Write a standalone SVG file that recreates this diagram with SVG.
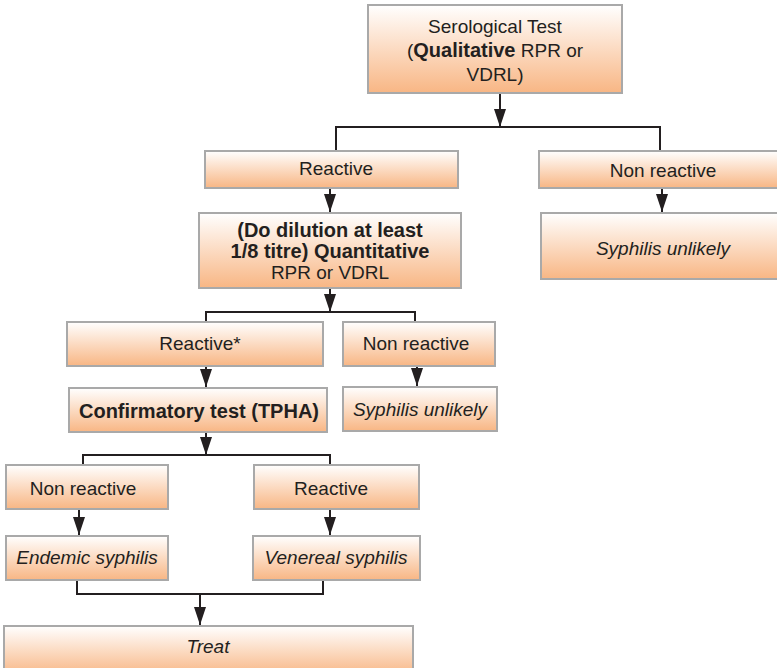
<svg xmlns="http://www.w3.org/2000/svg" width="777" height="668" viewBox="0 0 777 668">
  <defs>
    <linearGradient id="boxFill" x1="0" y1="0" x2="0" y2="1">
      <stop offset="0" stop-color="#ffffff"/>
      <stop offset="1" stop-color="#f8b684"/>
    </linearGradient>
    <!-- arrowhead drawn along +x so orient="auto" points it down the line -->
    <marker id="arrow" viewBox="0 0 18 12" refX="18" refY="6" markerWidth="18" markerHeight="12" markerUnits="userSpaceOnUse" orient="auto">
      <path d="M0,0 L18,6 L0,12 Z" fill="#231f20"/>
    </marker>
  </defs>
  <style>
    .box { fill: url(#boxFill); stroke: #a9a9a9; stroke-width: 2; }
    text { font-family: "Liberation Sans", Arial, sans-serif; font-size: 19px; fill: #231f20; text-anchor: middle; }
    .b { font-weight: bold; font-size: 20px; }
    .i { font-style: italic; }
    .line { fill: none; stroke: #231f20; stroke-width: 2; }
    .arr { fill: none; stroke: #231f20; stroke-width: 2; marker-end: url(#arrow); }
  </style>

  <g id="connectors">
    <!-- serological test to first split -->
    <line class="arr" x1="500" y1="93" x2="500" y2="127"/>
    <polyline class="line" points="336,150 336,127 660,127 660,151"/>
    <!-- first-level branches -->
    <line class="arr" x1="330" y1="188" x2="330" y2="212"/>
    <line class="arr" x1="662" y1="188" x2="662" y2="212"/>
    <!-- quantitative test to second split -->
    <line class="arr" x1="330" y1="288" x2="330" y2="312"/>
    <polyline class="line" points="206,322 206,312 415,312 415,322"/>
    <line class="arr" x1="206" y1="366" x2="206" y2="387"/>
    <line class="arr" x1="417" y1="366" x2="417" y2="386"/>
    <!-- confirmatory test to third split -->
    <line class="arr" x1="206" y1="432" x2="206" y2="455"/>
    <polyline class="line" points="83,465 83,455 330,455 330,465"/>
    <line class="arr" x1="79" y1="509" x2="79" y2="535"/>
    <line class="arr" x1="330" y1="509" x2="330" y2="535"/>
    <!-- both outcomes join into treatment -->
    <polyline class="line" points="77,580 77,594 323,594 323,580"/>
    <line class="arr" x1="200" y1="594" x2="200" y2="625"/>
  </g>

  <g id="serological-test">
    <rect class="box" x="368" y="5" width="254" height="88"/>
    <text x="495" y="33">Serological Test</text>
    <text x="495" y="57">(<tspan class="b">Qualitative</tspan> RPR or</text>
    <text x="495" y="81">VDRL)</text>
  </g>

  <g id="reactive-1">
    <rect class="box" x="205" y="151" width="253" height="37"/>
    <text x="336" y="175">Reactive</text>
  </g>

  <g id="non-reactive-1">
    <rect class="box" x="539" y="151" width="240" height="37"/>
    <text x="663" y="177">Non reactive</text>
  </g>

  <g id="unlikely-1">
    <rect class="box" x="541" y="213" width="238" height="66"/>
    <text class="i" x="663" y="255">Syphilis unlikely</text>
  </g>

  <g id="quantitative-test">
    <rect class="box" x="199" y="213" width="262" height="75"/>
    <text class="b" x="330" y="237">(Do dilution at least</text>
    <text class="b" x="330" y="258">1/8 titre) Quantitative</text>
    <text x="330" y="279">RPR or VDRL</text>
  </g>

  <g id="reactive-2">
    <rect class="box" x="67" y="322" width="256" height="44"/>
    <text x="200" y="350">Reactive*</text>
  </g>

  <g id="non-reactive-2">
    <rect class="box" x="343" y="322" width="152" height="44"/>
    <text x="416" y="350">Non reactive</text>
  </g>

  <g id="confirmatory-test">
    <rect class="box" x="69" y="388" width="258" height="44"/>
    <text class="b" x="199" y="418">Confirmatory test (TPHA)</text>
  </g>

  <g id="unlikely-2">
    <rect class="box" x="343" y="387" width="154" height="44"/>
    <text class="i" x="420" y="416">Syphilis unlikely</text>
  </g>

  <g id="non-reactive-3">
    <rect class="box" x="6" y="465" width="162" height="44"/>
    <text x="83" y="495">Non reactive</text>
  </g>

  <g id="reactive-3">
    <rect class="box" x="254" y="465" width="165" height="44"/>
    <text x="331" y="495">Reactive</text>
  </g>

  <g id="endemic-syphilis">
    <rect class="box" x="6" y="536" width="162" height="44"/>
    <text class="i" x="87" y="564">Endemic syphilis</text>
  </g>

  <g id="venereal-syphilis">
    <rect class="box" x="253" y="536" width="167" height="44"/>
    <text class="i" x="336" y="564">Venereal syphilis</text>
  </g>

  <g id="treat">
    <rect class="box" x="4" y="626" width="409" height="50"/>
    <text class="i" x="208" y="653">Treat</text>
  </g>
</svg>
